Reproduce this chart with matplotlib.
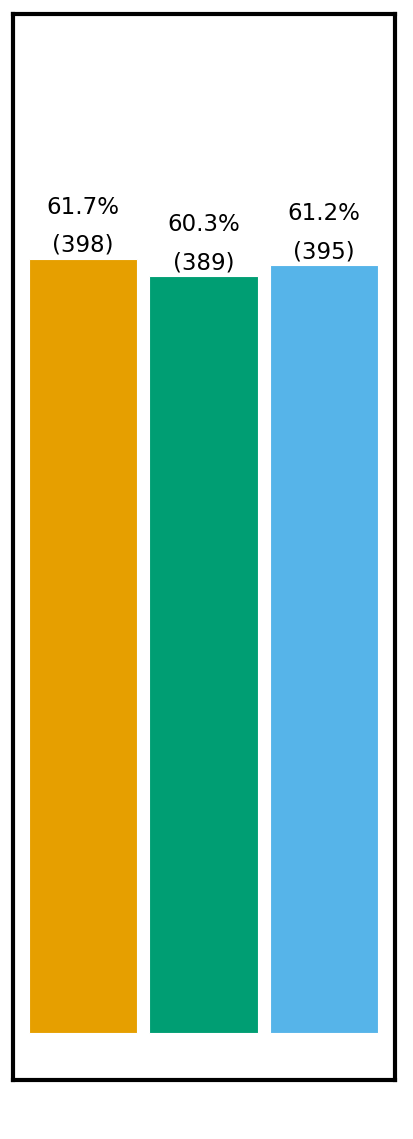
import matplotlib.pyplot as plt

groups = ["A", "B", "C"]
percents = [61.7, 60.3, 61.2]
counts = [398, 389, 395]
colors = ["#E69F00", "#009E73", "#56B4E9"]

fig = plt.figure(figsize=(4.13, 11.39), dpi=100)
ax = fig.add_axes([0.0315, 0.0522, 0.9245, 0.9355])

xs = range(len(groups))
ax.bar(xs, percents, width=0.9, color=colors, edgecolor="white", linewidth=0.8)

for x, p, n in zip(xs, percents, counts):
    ax.text(x, p + 0.15, f"{p:.1f}%\n({n})", ha="center", va="bottom",
            fontsize=16.5, linespacing=1.85)

ax.set_xlim(-0.583, 2.59)
ax.set_ylim(-3.7, 81.2)
ax.set_xticks([])
ax.set_yticks([])
for s in ax.spines.values():
    s.set_linewidth(3)
    s.set_color("black")

fig.savefig("out.png", dpi=100)
